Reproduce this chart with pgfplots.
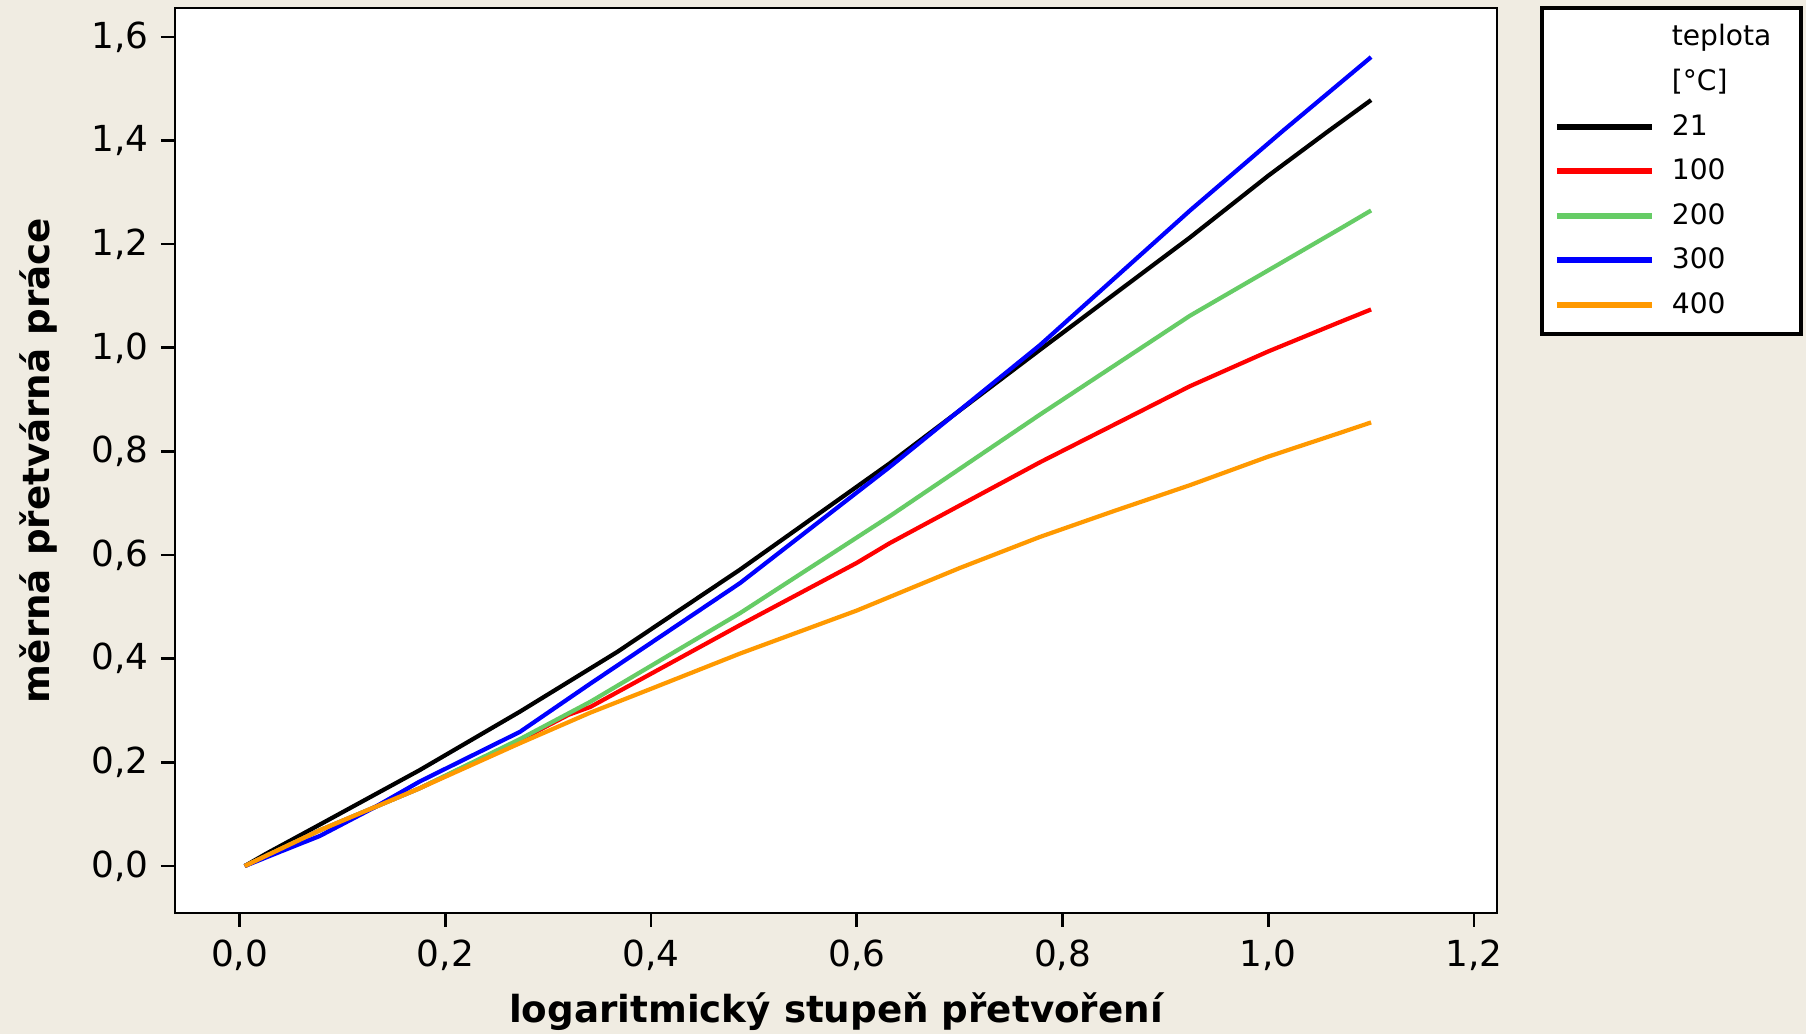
\documentclass[border=0pt]{standalone}
\usepackage{pgfplots}
\pgfplotsset{compat=1.18}
\usepackage{fontspec}
\setmainfont{DejaVu Sans}
\definecolor{bg}{RGB}{240,236,226}
\definecolor{cgreen}{RGB}{102,204,102}
\definecolor{corange}{RGB}{255,153,0}
\begin{document}
\begin{tikzpicture}
\fill[bg, use as bounding box] (-17.5mm,-12.1mm) rectangle (163.1mm,91.3mm);
\begin{axis}[
  at={(0,0)}, anchor=south west,
  scale only axis, width=132.2mm, height=90.5mm,
  xmin=-0.0628, xmax=1.2224, ymin=-0.0906, ymax=1.6557,
  axis background/.style={fill=white},
  axis line style={line width=0.75pt},
  xtick={0,0.2,0.4,0.6,0.8,1.0,1.2},
  ytick={0,0.2,0.4,0.6,0.8,1.0,1.2,1.4,1.6},
  tick pos=left,
  tick align=outside,
  major tick length=1.4mm,
  tick style={black, line width=0.75pt},
  ticklabel style={font=\fontsize{10.2}{12}\selectfont},
  /pgf/number format/fixed,
  /pgf/number format/fixed zerofill,
  /pgf/number format/precision=1,
  /pgf/number format/use comma,
  /pgf/number format/assume math mode=true,
  xlabel={logaritmický stupeň přetvoření},
  ylabel={měrná přetvárná práce},
  label style={font=\bfseries\fontsize{10.6}{12.7}\selectfont, inner sep=0pt},
  xlabel style={at={(axis description cs:0.5,-0.1215)}, anchor=base},
  ylabel style={at={(axis description cs:-0.0953,0.5)}, anchor=base},
  legend style={
    at={(1.0325,1.002)}, anchor=north west,
    draw=black, line width=1.1pt, fill=white,
    font=\fontsize{8}{9.6}\selectfont,
    inner xsep=1.2mm, inner ysep=0.7mm,
    row sep=0pt, column sep=1.7mm,
    nodes={inner xsep=0pt, inner ysep=0.78mm, text height=2.3mm, text depth=0.6mm},
  },
  legend cell align=left,
  legend image code/.code={\draw[line width=1.7pt] (0mm,0mm) -- (9.5mm,0mm);},
]
\addlegendimage{empty legend}
\addlegendentry{teplota\hspace*{1.8mm}}
\addlegendimage{empty legend}
\addlegendentry{[°C]}

\addplot[black, line width=1.2pt] coordinates {
(0.005,0) (0.026,0.024) (0.078,0.080) (0.175,0.185) (0.2726,0.298)
(0.367,0.413) (0.4865,0.572) (0.632,0.777) (0.778,0.996) (0.924,1.213)
(1.0,1.332) (1.057,1.416) (1.1,1.478)};
\addlegendentry{21}

\addplot[red, line width=1.2pt] coordinates {
(0.005,0) (0.078,0.069) (0.175,0.150) (0.2726,0.243) (0.32,0.292)
(0.341,0.307) (0.4865,0.465) (0.6,0.585) (0.632,0.623) (0.778,0.779)
(0.924,0.926) (1.0,0.993) (1.07,1.050) (1.1,1.074)};
\addlegendentry{100}

\addplot[cgreen, line width=1.2pt] coordinates {
(0.005,0) (0.078,0.069) (0.175,0.150) (0.2726,0.245) (0.341,0.317)
(0.4865,0.488) (0.632,0.675) (0.778,0.871) (0.924,1.062) (1.07,1.230)
(1.1,1.265)};
\addlegendentry{200}

\addplot[blue, line width=1.2pt] coordinates {
(0.005,0) (0.04,0.028) (0.078,0.058) (0.13,0.112) (0.175,0.163)
(0.2726,0.259) (0.341,0.352) (0.4865,0.546) (0.632,0.770) (0.778,1.005)
(0.924,1.265) (1.0145,1.419) (1.1,1.561)};
\addlegendentry{300}

\addplot[corange, line width=1.2pt] coordinates {
(0.005,0) (0.078,0.069) (0.175,0.150) (0.2726,0.237) (0.341,0.296)
(0.4,0.342) (0.4865,0.410) (0.6,0.493) (0.7,0.575) (0.778,0.635)
(0.85,0.685) (0.924,0.735) (1.0,0.790) (1.07,0.836) (1.1,0.856)};
\addlegendentry{400}
\end{axis}
\end{tikzpicture}
\end{document}
